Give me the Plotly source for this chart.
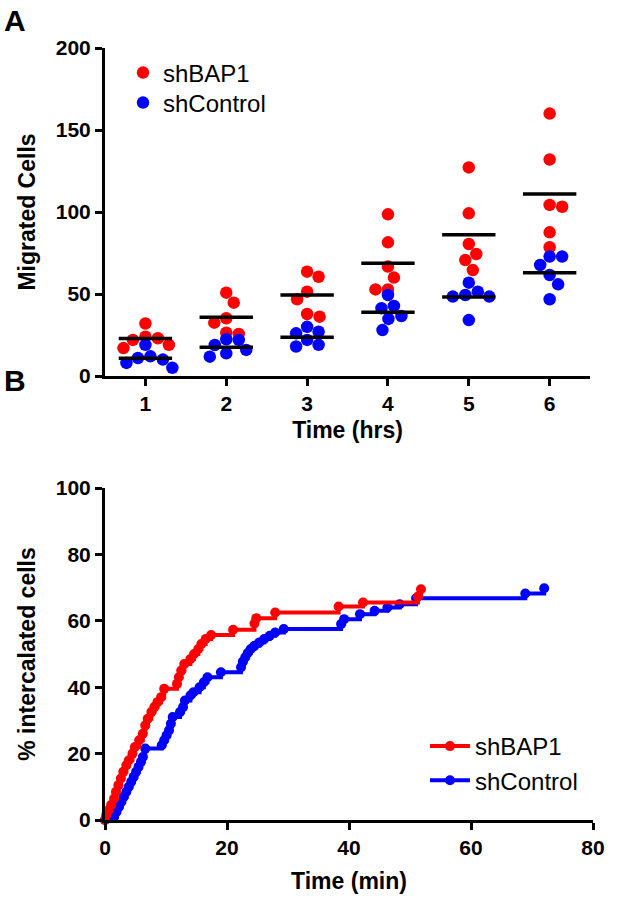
import numpy as np
import plotly.graph_objects as go

# ---------------- Panel A data ----------------
time_hrs = [1, 2, 3, 4, 5, 6]
shBAP1_cells = [
    [32, 24, 23, 19, 17, 22],
    [50.8, 44.7, 35.2, 32.5, 26.4, 25.6],
    [63.6, 60.5, 51.4, 46.8, 37.8, 36.2],
    [98.6, 81.5, 66.7, 60, 52.8, 52.8],
    [127.2, 99.2, 80.5, 74.4, 70.7, 64.6],
    [160, 132, 104.3, 103.2, 87.6, 78.5],
]
shControl_cells = [
    [19, 11, 10, 8, 5, 12],
    [22, 22.4, 18.9, 15.9, 13.8, 11.8],
    [30, 27, 26, 22, 19, 18],
    [49.4, 42.7, 41.3, 36.6, 34.8, 28],
    [56.9, 51.4, 48.4, 48.4, 49.4, 34.1],
    [72.8, 72.8, 67.7, 61.6, 55.9, 46.8],
]
yticks_A = [0, 50, 100, 150, 200]

# ---------------- Panel B data ----------------
red_time = [0, 0.2, 0.6, 1.0, 1.5, 1.8, 2.2, 2.6, 3.0, 3.5, 3.9, 4.5, 4.9, 5.6, 6.2,
            6.6, 7.0, 7.6, 8.1, 8.6, 9.2, 9.7, 11.8, 12.1, 12.5, 13.0, 14.0, 14.6,
            15.3, 15.8, 16.5, 17.4, 21.0, 24.5, 24.8, 27.9, 38.3, 42.3, 51.3, 51.8]
red_pct = [0, 1.5, 3, 4.5, 6.5, 8.5, 10.5, 12.5, 14.5, 16.5, 18, 20, 22, 24, 26,
           28.5, 30.5, 32.5, 34, 35.5, 37, 39.5, 41, 43, 45, 47, 48.5, 50,
           51.5, 53, 54.5, 55.7, 57.3, 59.2, 60.8, 62.5, 64.3, 65.5, 67.3, 69.5]
blue_time = [0, 1.5, 1.9, 2.3, 2.7, 3.1, 3.5, 3.9, 4.3, 4.7, 5.1, 5.5, 5.9, 6.2, 6.6,
             9.3, 9.7, 10.1, 10.5, 10.8, 11.1, 12.3, 12.8, 13.1, 14.0, 14.5, 15.5,
             16.2, 16.8, 19.0, 22.3, 22.6, 23.0, 23.4, 23.9, 24.5, 25.3, 26.1, 27.0,
             27.9, 29.3, 38.7, 39.2, 41.8, 44.2, 46.3, 48.3, 51.0, 68.9, 72.0]
blue_pct = [0, 1, 2.5, 4, 5.5, 7, 8.5, 10, 11.5, 13, 14.5, 16, 17.5, 19, 21.5,
            22.5, 24, 25.5, 27, 29, 31, 32.5, 34, 36, 37.5, 38.5, 40,
            41.5, 43, 44.5, 46, 47.7, 49, 50.3, 51.5, 52.5, 53.5, 54.5, 55.5,
            56.5, 57.5, 59, 60.5, 62, 63, 64, 65, 66.8, 68.2, 69.8]

RED = "#FF0000"
BLUE = "#0000FF"
FONT = "Arial, 'Liberation Sans', Helvetica, sans-serif"

PX_X = 81.0   # px per hour unit, panel A
PX_Y = 1.64   # px per cell unit, panel A


def swarm(vals, d=12.5):
    order = np.argsort(-np.asarray(vals, dtype=float), kind="stable")
    placed = []
    offs = [0.0] * len(vals)
    last = -1.0
    for i in order:
        y = vals[i] * PX_Y

        def ok(o):
            return all((o - px) ** 2 + (y - py) ** 2 >= d * d for px, py in placed)

        best = None
        for step in np.arange(0, 80, 0.5):
            cands = [0.0] if step == 0 else [-last * step, last * step]
            for c in cands:
                if ok(c):
                    best = c
                    break
            if best is not None:
                break
        if best != 0:
            last = float(np.sign(best))
        placed.append((best, y))
        offs[i] = best / PX_X
    return offs


fig = go.Figure()

# Panel A points
for name, data, col, lg in [("shBAP1", shBAP1_cells, RED, "legend"),
                            ("shControl", shControl_cells, BLUE, "legend3")]:
    xs, ys = [], []
    for t, vals in zip(time_hrs, data):
        for o, v in zip(swarm(vals), vals):
            xs.append(t + o)
            ys.append(v)
    fig.add_trace(go.Scatter(
        x=xs, y=ys, mode="markers", name=name,
        marker=dict(color=col, size=12.5, line=dict(width=0)),
        xaxis="x", yaxis="y", legend=lg, cliponaxis=False,
    ))

# Mean lines
for data in (shBAP1_cells, shControl_cells):
    mx, my = [], []
    for t, vals in zip(time_hrs, data):
        m = float(np.mean(vals))
        mx += [t - 0.33, t + 0.33, None]
        my += [m, m, None]
    fig.add_trace(go.Scatter(
        x=mx, y=my, mode="lines", line=dict(color="black", width=3.5),
        showlegend=False, xaxis="x", yaxis="y", hoverinfo="skip",
    ))

# Panel B curves
fig.add_trace(go.Scatter(
    x=blue_time, y=blue_pct, mode="lines+markers", name="shControl",
    line=dict(color=BLUE, width=4, shape="hv"), marker=dict(color=BLUE, size=10),
    xaxis="x2", yaxis="y2", legend="legend2", legendrank=2, cliponaxis=False,
))
fig.add_trace(go.Scatter(
    x=red_time, y=red_pct, mode="lines+markers", name="shBAP1",
    line=dict(color=RED, width=4, shape="hv"), marker=dict(color=RED, size=10),
    xaxis="x2", yaxis="y2", legend="legend2", legendrank=1, cliponaxis=False,
))

tickfont = dict(family=FONT, size=21, color="black", weight="bold")
titlefont = dict(family=FONT, size=23, color="black", weight="bold")
axis_common = dict(
    showline=True, linecolor="black", linewidth=3, ticks="outside", ticklen=7,
    tickwidth=3, tickcolor="black", showgrid=False, zeroline=False,
    tickfont=tickfont, fixedrange=True,
)

H = 911
T, B = 48, 91
plot_h = H - T - B
PW = 488


def px2x(px):
    return (px - 105) / PW


def py2y(py):
    return (820 - py) / plot_h


legend_font = dict(family=FONT, size=24, color="black")

fig.update_layout(
    width=620, height=911,
    margin=dict(l=105, r=27, t=T, b=B),
    paper_bgcolor="white", plot_bgcolor="white",
    font=dict(family=FONT, color="black"),
    xaxis=dict(domain=[0, 0.994], range=[0.5, 6.5], tickvals=time_hrs,
               ticktext=[str(t) for t in time_hrs], anchor="y",
               title=dict(text="Time (hrs)", font=titlefont, standoff=8), **axis_common),
    yaxis=dict(domain=[1 - 328 / plot_h, 1], range=[0, 200], tickvals=yticks_A, anchor="x",
               title=dict(text="Migrated Cells", font=titlefont, standoff=14), **axis_common),
    xaxis2=dict(domain=[0, 1], range=[0, 80], tickvals=[0, 20, 40, 60, 80], anchor="y2",
                title=dict(text="Time (min)", font=titlefont, standoff=15), **axis_common),
    yaxis2=dict(domain=[0, 332 / plot_h], range=[0, 100], tickvals=[0, 20, 40, 60, 80, 100],
                anchor="x2",
                title=dict(text="% intercalated cells", font=titlefont, standoff=14), **axis_common),
    legend=dict(x=px2x(123), xanchor="left", y=py2y(73), yanchor="middle",
                font=legend_font, bgcolor="rgba(0,0,0,0)", itemclick=False),
    legend3=dict(x=px2x(123), xanchor="left", y=py2y(103), yanchor="middle",
                 font=legend_font, bgcolor="rgba(0,0,0,0)", itemclick=False),
    legend2=dict(x=px2x(425), xanchor="left", y=py2y(724), yanchor="top",
                 font=legend_font, bgcolor="rgba(0,0,0,0)", itemwidth=40,
                 traceorder="normal", itemclick=False),
    showlegend=True,
    annotations=[
        dict(text="A", xref="paper", yref="paper", x=px2x(2), y=py2y(2),
             xanchor="left", yanchor="top", showarrow=False,
             font=dict(family=FONT, size=30, color="black", weight="bold")),
        dict(text="B", xref="paper", yref="paper", x=px2x(2), y=py2y(362),
             xanchor="left", yanchor="top", showarrow=False,
             font=dict(family=FONT, size=30, color="black", weight="bold")),
    ],
)

fig.write_html("out.html", config={"displayModeBar": False},
               post_script="document.body.style.margin='0';")
